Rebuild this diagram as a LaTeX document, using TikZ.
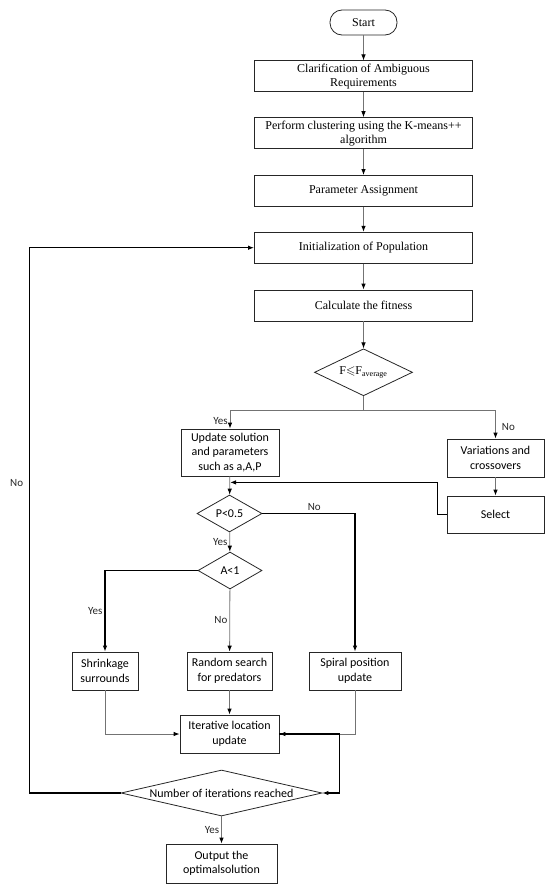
\documentclass[tikz,border=0pt]{standalone}
\usepackage{amssymb}
\usepackage{fontspec}
\setmainfont{Liberation Serif}
\newfontfamily\cfont{Carlito}
\usetikzlibrary{positioning, arrows.meta, shapes.geometric, calc}
\tikzset{
  termbox/.style={
    draw=black!85, line width=0.8pt,
    rounded corners=12pt,
    minimum width=67pt, minimum height=25pt,
    inner sep=0pt,
    font=\fontsize{12}{14}\selectfont
  },
  mainbox/.style={
    draw=black!85, line width=0.8pt,
    align=center,
    inner sep=0pt,
    minimum width=218pt, minimum height=31pt,
    font=\fontsize{12}{14}\selectfont
  },
  sbox/.style={
    draw=black!85, line width=0.8pt,
    align=center,
    inner sep=0pt,
    minimum width=#1, minimum height=38pt,
    font=\cfont\fontsize{12}{14.5}\selectfont
  },
  decision/.style={
    diamond, aspect=#1,
    draw=black!85, line width=0.8pt,
    inner sep=0pt,
    font=\cfont\fontsize{12}{14}\selectfont
  },
  flow/.style={
    -{Latex[length=6pt,width=4.5pt,color=black]},
    line width=0.8pt,
    draw=black!55
  },
  flowb/.style={
    flow,
    line width=1.1pt,
    draw=black
  },
  lab/.style={
    font=\cfont\fontsize{11}{12}\selectfont,
    text=black!85,
    inner sep=2pt
  }
}

\begin{document}
\begin{tikzpicture}[x=1pt, y=1pt]
  \useasboundingbox (0,0) rectangle (550,-889);

  % main column
  \node[termbox] (start) at (363.5,-22.5) {Start};
  \node[mainbox, below=25pt of start] (clar) {Clarification of Ambiguous\\Requirements};
  \node[mainbox, below=25pt of clar] (perf) {Perform clustering using the K-means++\\algorithm};
  \node[mainbox, below=26pt of perf] (param) {Parameter Assignment};
  \node[mainbox, below=25pt of param] (init) {Initialization of Population};
  \node[mainbox, below=26pt of init] (calc) {Calculate the fitness};
  \node[decision=2, minimum width=98pt, minimum height=47pt, font=\fontsize{12}{14}\selectfont,
        below=27pt of calc] (fdia) {F$\leqslant$F\textsubscript{average}};

  % branches
  \node[sbox=98pt, minimum height=47pt] (upd) at (230,-452.5) {Update solution\\and parameters\\such as a,A,P};
  \node[sbox=97pt] (var) at (495.5,-458) {Variations and\\crossovers};
  \node[sbox=97pt, minimum height=37pt] (sel) at (495.5,-514.5) {Select};
  \node[decision=1.76, minimum width=65pt, minimum height=37pt] (pdia) at (229.5,-513.5) {P<0.5};
  \node[decision=1.76, minimum width=64pt, minimum height=37pt] (adia) at (230,-570.5) {A<1};
  \node[sbox=66pt] (shr) at (105,-671) {Shrinkage\\surrounds};
  \node[sbox=85pt] (rnd) at (229.5,-671) {Random search\\for predators};
  \node[sbox=92pt] (spi) at (355,-671) {Spiral position\\update};
  \node[sbox=99pt] (iter) at (229.5,-734) {Iterative location\\update};
  \node[decision=4.6, minimum width=201pt, minimum height=46pt] (ndia) at (221.5,-793) {Number of iterations reached};
  \node[sbox=111pt, minimum height=39pt] (out) at (221.5,-863.5) {Output the\\optimalsolution};

  \coordinate (fork) at ($(fdia.south)+(0,-14)$);
  \coordinate (merge) at ($(upd.south)+(0,-6)$);
  \coordinate (joint) at ($(iter.east)+(60,0)$);

  \draw[flow] (start) -- (clar);
  \draw[flow] (clar) -- (perf);
  \draw[flow] (perf) -- (param);
  \draw[flow] (param) -- (init);
  \draw[flow] (init) -- (calc);
  \draw[flow] (calc) -- (fdia);

  \draw[flow, -] (fdia.south) -- (fork);
  \draw[flow] (fork) -| node[lab, pos=0.8, left] (yesA) {Yes} (upd.north);
  \draw[flow] (fork) -| node[lab, pos=0.8, right=4pt] (noA) {No} (var.north);
  \draw[flow] (var) -- (sel);
  \draw[flow] (upd) -- (pdia);
  \draw[flowb] (sel.west) -- ++(-9,0) |- (merge);

  \draw[flowb] (pdia.east) -| node[lab, pos=0.28, above] (noB) {No} (spi.north);
  \draw[flow] (pdia) -- node[lab, left] (yesB) {Yes} (adia);
  \draw[flowb] (adia.west) -| node[lab, pos=0.75, left] (yesC) {Yes} (shr.north);
  \draw[flow] (adia) -- node[lab, left] (noC) {No} (rnd);

  \draw[flow] (shr.south) |- (iter.west);
  \draw[flow] (rnd) -- (iter);
  \draw[flow] (spi.south) |- (iter.east);
  \draw[flowb] (iter.east) -- (joint) |- (ndia.east);

  \draw[flowb] (ndia.west) -- ++(-91,0) |- node[lab, pos=0.284, left=4pt] (noD) {No} (init.west);
  \draw[flow] (ndia) -- node[lab, left] (yesE) {Yes} (out);
\end{tikzpicture}
\end{document}
